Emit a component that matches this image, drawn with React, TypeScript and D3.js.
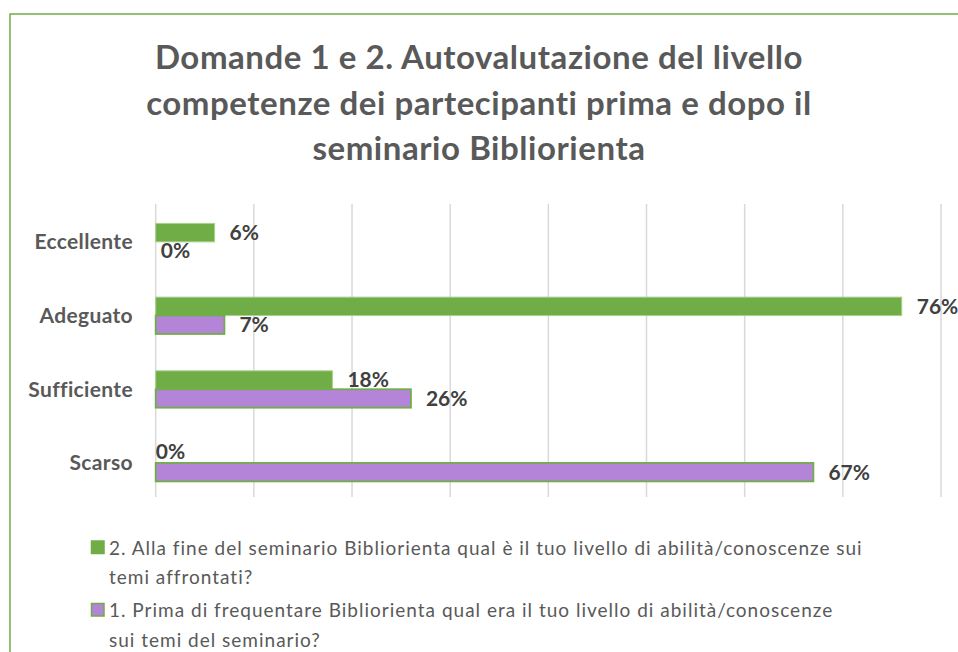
import React from "react";
import * as d3 from "d3";

const categories = ["Eccellente", "Adeguato", "Sufficiente", "Scarso"];
const afterValues = [6, 76, 18, 0]; // serie 2 (verde)
const beforeValues = [0, 7, 26, 67]; // serie 1 (viola)
const xTicks = [0, 10, 20, 30, 40, 50, 60, 70, 80];
const titleLines = [
  "Domande 1 e 2. Autovalutazione del livello",
  "competenze dei partecipanti prima e dopo il",
  "seminario Bibliorienta",
];
const legendItems = [
  {
    lines: [
      "2. Alla fine del seminario Bibliorienta qual è il tuo livello di abilità/conoscenze sui",
      "temi affrontati?",
    ],
    fill: "#70AD47",
    stroke: "#70AD47",
  },
  {
    lines: [
      "1. Prima di frequentare Bibliorienta qual era il tuo livello di abilità/conoscenze",
      "sui temi del seminario?",
    ],
    fill: "#B484D9",
    stroke: "#70AD47",
  },
];

const W = 958;
const H = 652;
const FONT = "Lato, 'Open Sans', sans-serif";

export default function App() {
  const x = d3.scaleLinear().domain([0, 80]).range([155.7, 941]);
  const y = d3
    .scaleBand<string>()
    .domain(categories)
    .range([205, 499.8])
    .paddingInner(0.5)
    .paddingOuter(0.25);
  const sub = d3
    .scaleBand<string>()
    .domain(["after", "before"])
    .range([0, y.bandwidth()]);

  const series = [
    { key: "after", values: afterValues, fill: "#70AD47", stroke: "#A9D18E", sw: 1, zeroOff: 0, zeroDy: -2 },
    { key: "before", values: beforeValues, fill: "#B484D9", stroke: "#70AD47", sw: 1.8, zeroOff: 5, zeroDy: 0 },
  ];

  return (
    <svg
      width={W}
      height={H}
      style={{ position: "absolute", left: 0, top: 0, background: "#fff" }}
      fontFamily={FONT}
    >
      <rect x={0} y={0} width={W} height={H} fill="#fff" />
      <rect x={10} y={14} width={W + 20} height={H + 20} fill="none" stroke="#70AD47" strokeWidth={1.5} />

      {titleLines.map((t, i) => (
        <text
          key={i}
          x={479}
          y={69 + i * 45.5}
          textAnchor="middle"
          fontSize={33}
          letterSpacing={0.55}
          fontWeight={700}
          fill="#595959"
        >
          {t}
        </text>
      ))}

      {xTicks.map((t) => (
        <line
          key={t}
          x1={x(t)}
          x2={x(t)}
          y1={204}
          y2={497}
          stroke="#D9D9D9"
          strokeWidth={1.5}
        />
      ))}

      {categories.map((c) => (
        <text
          key={c}
          x={133}
          y={(y(c) as number) + y.bandwidth() / 2}
          dy="0.35em"
          textAnchor="end"
          fontSize={21}
          letterSpacing={0.35}
          fontWeight={700}
          fill="#595959"
        >
          {c}
        </text>
      ))}

      {series.map((s) =>
        categories.map((c, i) => {
          const v = s.values[i];
          const by = (y(c) as number) + (sub(s.key) as number);
          const bh = sub.bandwidth();
          return (
            <g key={s.key + c}>
              {v > 0 && (
                <rect
                  x={x(0)}
                  y={by}
                  width={x(v) - x(0)}
                  height={bh}
                  fill={s.fill}
                  stroke={s.stroke}
                  strokeWidth={s.sw}
                />
              )}
              <text
                x={x(v) + (v > 0 ? 15 : s.zeroOff)}
                y={by + bh / 2 + (v === 0 ? s.zeroDy : 0)}
                dy="0.35em"
                fontSize={21}
                fontWeight={700}
                fill="#404040"
              >
                {v}%
              </text>
            </g>
          );
        })
      )}

      {legendItems.map((it, i) => {
        const base = 554.5 + i * 62.5;
        return (
          <g key={i}>
            <rect
              x={91.5}
              y={base - 13.5}
              width={12.5}
              height={12.5}
              fill={it.fill}
              stroke={it.stroke}
              strokeWidth={1.5}
            />
            {it.lines.map((l, j) => (
              <text
                key={j}
                x={109}
                y={base + j * 29.5}
                fontSize={19}
                letterSpacing={1}
                fill="#595959"
              >
                {l}
              </text>
            ))}
          </g>
        );
      })}
    </svg>
  );
}
